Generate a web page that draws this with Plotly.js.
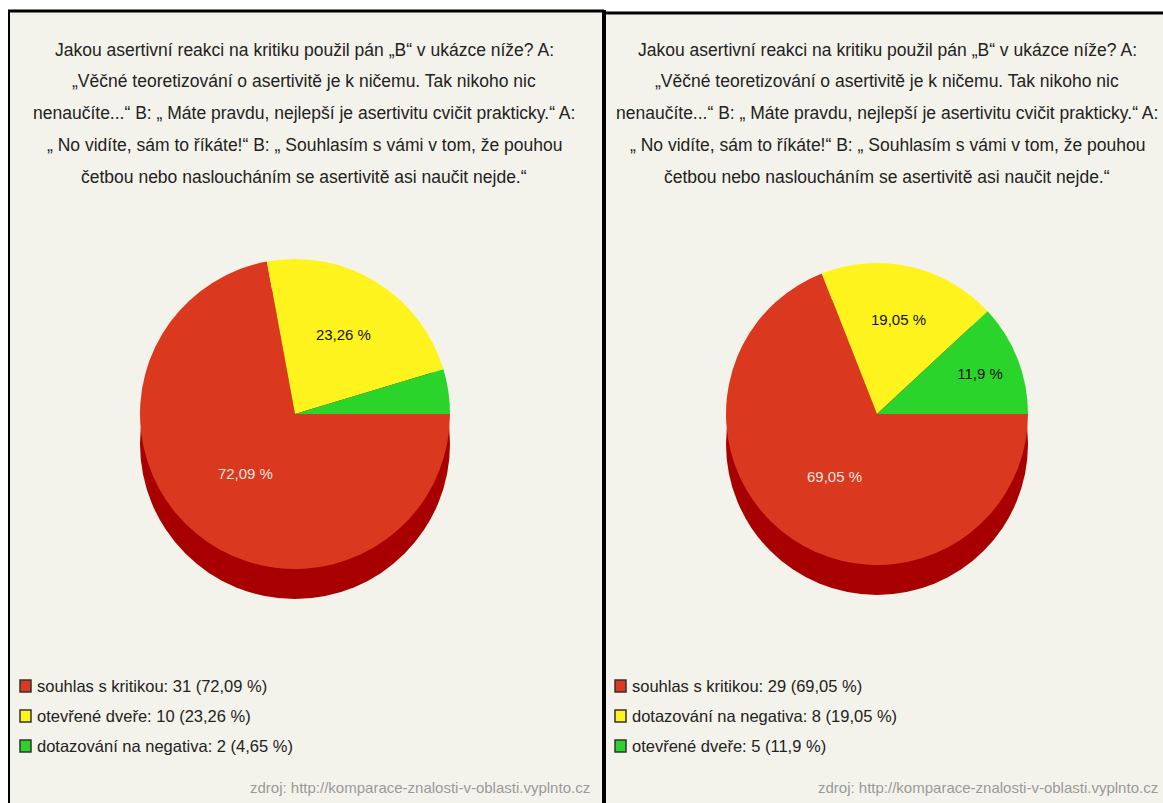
<!DOCTYPE html>
<html>
<head>
<meta charset="utf-8">
<script src="https://cdn.plot.ly/plotly-3.0.1.min.js"></script>
<style>
  html, body { margin: 0; padding: 0; background: #ffffff; }
  #chart { width: 1163px; height: 803px; }
</style>
</head>
<body>
<div id="chart"></div>
<script>
// ---- Data ----
const titleLines = [
  "Jakou asertivní reakci na kritiku použil pán „B“ v ukázce níže? A:",
  "„Věčné teoretizování o asertivitě je k ničemu. Tak nikoho nic",
  "nenaučíte...“ B: „ Máte pravdu, nejlepší je asertivitu cvičit prakticky.“ A:",
  "„ No vidíte, sám to říkáte!“ B: „ Souhlasím s vámi v tom, že pouhou",
  "četbou nebo nasloucháním se asertivitě asi naučit nejde.“"
];

const leftLabels = ["souhlas s kritikou", "otevřené dveře", "dotazování na negativa"];
const leftCounts = [31, 10, 2];
const leftPct = ["72,09 %", "23,26 %", "4,65 %"];
const leftSliceText = ["72,09 %", "23,26 %", ""];

const rightLabels = ["souhlas s kritikou", "dotazování na negativa", "otevřené dveře"];
const rightCounts = [29, 8, 5];
const rightPct = ["69,05 %", "19,05 %", "11,9 %"];
const rightSliceText = ["69,05 %", "19,05 %", "11,9 %"];

const sliceColors = ["#da3920", "#fff31e", "#2bd42b"];
const sliceTextColors = ["#fbe3dc", "#111111", "#111111"];

const sourceText = "zdroj: http://komparace-znalosti-v-oblasti.vyplnto.cz";

// ---- Layout helpers (pixels -> paper) ----
const W = 1163, H = 803;
const px = x => x / W;
const py = y => 1 - y / H;
const FONT = "'Liberation Sans', Arial, sans-serif";

const pies = [
  {cx: 295, cy: 414, r: 155, labels: leftLabels, values: leftCounts, text: leftSliceText, pct: leftPct,
   titleX: 304, legendX: 20, srcX: 592},
  {cx: 877, cy: 414, r: 151, labels: rightLabels, values: rightCounts, text: rightSliceText, pct: rightPct,
   titleX: 887, legendX: 615, srcX: 1160}
];

const traces = [];
const shapes = [];
const annotations = [];

// panel backgrounds and borders
shapes.push({type: "rect", xref: "paper", yref: "paper", layer: "below",
  x0: px(8), x1: px(604), y0: py(803), y1: py(10), fillcolor: "#f4f3eb", line: {width: 0}});
shapes.push({type: "rect", xref: "paper", yref: "paper", layer: "below",
  x0: px(604), x1: px(1163), y0: py(803), y1: py(12), fillcolor: "#f4f3eb", line: {width: 0}});
shapes.push({type: "line", xref: "paper", yref: "paper", layer: "below",
  x0: px(8), x1: px(604), y0: py(11), y1: py(11), line: {color: "#000", width: 3}});
shapes.push({type: "line", xref: "paper", yref: "paper", layer: "below",
  x0: px(9), x1: px(9), y0: py(10), y1: py(803), line: {color: "#000", width: 2}});
shapes.push({type: "line", xref: "paper", yref: "paper", layer: "below",
  x0: px(604), x1: px(604), y0: py(10), y1: py(803), line: {color: "#000", width: 4}});
shapes.push({type: "line", xref: "paper", yref: "paper", layer: "below",
  x0: px(604), x1: px(1163), y0: py(13), y1: py(13), line: {color: "#000", width: 3}});

pies.forEach((p, i) => {
  const R = p.r;
  // 3D depth under the pie
  shapes.push({type: "circle", xref: "paper", yref: "paper", layer: "below",
    x0: px(p.cx - R), x1: px(p.cx + R), y0: py(p.cy + 30 + R), y1: py(p.cy + 30 - R),
    fillcolor: "#a80000", line: {width: 0}});

  traces.push({
    type: "pie",
    labels: p.labels,
    values: p.values,
    text: p.text,
    textinfo: "text",
    texttemplate: "%{text}",
    textposition: "inside",
    insidetextorientation: "horizontal",
    insidetextfont: {family: FONT, size: 15, color: sliceTextColors},
    sort: false,
    direction: "clockwise",
    rotation: 90,
    marker: {colors: sliceColors, line: {width: 0}},
    domain: {x: [px(p.cx - R), px(p.cx + R)], y: [py(p.cy + R), py(p.cy - R)]},
    showlegend: false,
    hoverinfo: "label+value+text"
  });

  // title lines
  const lineY = [50, 81, 113, 145, 177];
  titleLines.forEach((t, k) => {
    annotations.push({xref: "paper", yref: "paper", x: px(p.titleX), y: py(lineY[k]),
      xanchor: "center", yanchor: "middle", showarrow: false, text: t,
      font: {family: FONT, size: 17.5, color: "#222222"}});
  });

  // legend
  const legY = [686, 716, 746];
  p.labels.forEach((lab, k) => {
    shapes.push({type: "rect", xref: "paper", yref: "paper",
      x0: px(p.legendX), x1: px(p.legendX + 11), y0: py(legY[k] + 6), y1: py(legY[k] - 6),
      fillcolor: sliceColors[k], line: {color: "#333333", width: 1.5}});
    annotations.push({xref: "paper", yref: "paper", x: px(p.legendX + 15), y: py(legY[k]),
      xanchor: "left", yanchor: "middle", showarrow: false,
      text: lab + ": " + p.values[k] + " (" + p.pct[k] + ")",
      font: {family: FONT, size: 16.5, color: "#222222"}});
  });

  // source
  annotations.push({xref: "paper", yref: "paper", x: px(p.srcX), y: py(787),
    xanchor: "right", yanchor: "middle", showarrow: false, text: sourceText,
    font: {family: FONT, size: 15, color: "#9a9a9a"}});
});

const layout = {
  width: W, height: H,
  margin: {l: 0, r: 0, t: 0, b: 0},
  paper_bgcolor: "#ffffff",
  plot_bgcolor: "rgba(0,0,0,0)",
  showlegend: false,
  shapes: shapes,
  annotations: annotations
};

Plotly.newPlot("chart", traces, layout, {displayModeBar: false, staticPlot: true});
</script>
</body>
</html>
